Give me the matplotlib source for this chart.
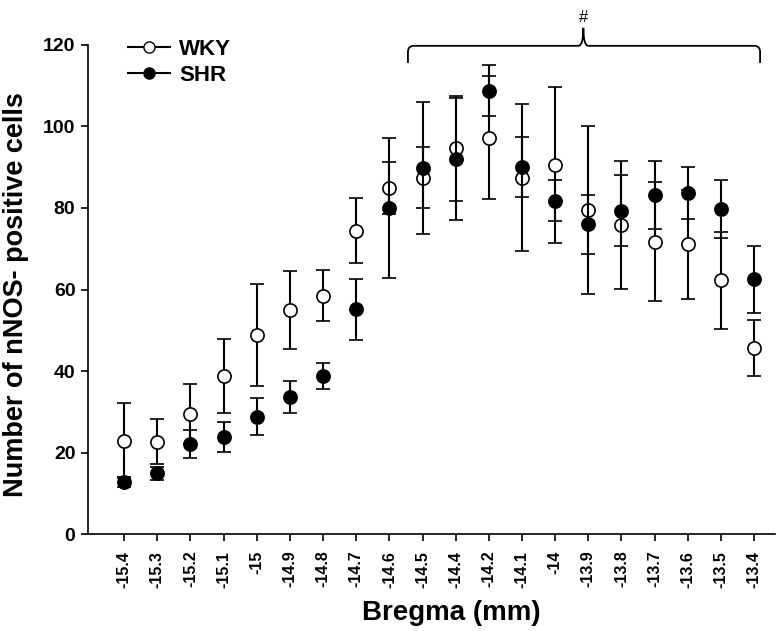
import matplotlib
matplotlib.use('Agg')
import matplotlib.pyplot as plt
from matplotlib.lines import Line2D
from matplotlib.path import Path
from matplotlib.patches import PathPatch

plt.rcParams['font.family'] = ['Liberation Sans', 'DejaVu Sans']

# Bregma levels (mm), one category each
bregma = ['-15.4', '-15.3', '-15.2', '-15.1', '-15', '-14.9', '-14.8', '-14.7',
          '-14.6', '-14.5', '-14.4', '-14.2', '-14.1', '-14', '-13.9', '-13.8',
          '-13.7', '-13.6', '-13.5', '-13.4']

# mean +/- SEM
wky_mean = [22.9, 22.7, 29.4, 38.8, 48.8, 55.0, 58.5, 74.4, 84.9, 87.4,
            94.7, 97.2, 87.4, 90.6, 79.5, 75.8, 71.7, 71.1, 62.3, 45.7]
wky_sem = [9.2, 5.6, 7.3, 9.0, 12.5, 9.5, 6.3, 8.0, 6.4, 7.5,
           12.9, 15.1, 18.0, 19.1, 20.6, 15.7, 14.6, 13.4, 11.9, 6.9]
shr_mean = [12.8, 14.9, 22.1, 23.9, 28.8, 33.6, 38.8, 55.1, 80.0, 89.8,
            92.0, 108.8, 90.0, 81.8, 76.0, 79.3, 83.2, 83.6, 79.7, 62.5]
shr_sem = [1.2, 1.6, 3.5, 3.7, 4.5, 3.9, 3.1, 7.5, 17.2, 16.1,
           15.0, 6.2, 7.3, 5.0, 7.2, 8.7, 8.4, 6.4, 7.1, 8.2]

# bracket marking the significant range (data coords)
br_left, br_right, br_mid = 8.56, 19.18, 13.85
br_foot, br_bar, br_peak = 115.6, 119.8, 124.2

x = list(range(len(bregma)))

fig = plt.figure(figsize=(7.8, 6.31), dpi=100)
ax = fig.add_axes([0.1128, 0.1537, 0.8808, 0.775])

style = dict(ms=9.5, mew=1.2, ecolor='black', elinewidth=1.5, capsize=5,
             capthick=1.5, linestyle='none', color='black')
ax.errorbar(x, wky_mean, yerr=wky_sem, fmt='o', mfc='white', mec='black',
            zorder=3, **style)
ax.errorbar(x, shr_mean, yerr=shr_sem, fmt='o', mfc='black', mec='black',
            zorder=4, **style)

ax.set_xlim(-1.09, 19.63)
ax.set_ylim(0, 120)
ax.set_xticks(x)
ax.set_xticklabels(bregma, rotation=90, fontweight='bold', fontsize=11.5)
ax.set_yticks(range(0, 121, 20))
ax.set_yticklabels([str(v) for v in range(0, 121, 20)], fontweight='bold',
                   fontsize=14)
ax.tick_params(axis='both', direction='out', length=5, width=1.2)
ax.tick_params(axis='x', pad=7)
ax.tick_params(axis='y', pad=4)
for s in ['top', 'right']:
    ax.spines[s].set_visible(False)
for s in ['left', 'bottom']:
    ax.spines[s].set_linewidth(1.2)

ax.set_xlabel('Bregma (mm)', fontsize=20, fontweight='bold', va='baseline')
ax.xaxis.set_label_coords(0.529, -0.176)
ax.set_ylabel('Number of nNOS- positive cells', fontsize=19.5, fontweight='bold')
ax.yaxis.set_label_coords(-0.086, 0.489)

# legend
handles = [
    Line2D([], [], color='black', lw=1.5, marker='o', ms=8, mfc='white', mec='black'),
    Line2D([], [], color='black', lw=1.5, marker='o', ms=8, mfc='black', mec='black'),
]
ax.legend(handles, ['WKY', 'SHR'], loc='upper left', bbox_to_anchor=(0.058, 1.013),
          frameon=False, prop=dict(weight='bold', size=16), handlelength=1.9,
          handletextpad=0.4, labelspacing=0.22, borderpad=0, borderaxespad=0)

# curly bracket with '#'
rx, ry = 0.18, 1.5
verts = [(br_left, br_foot), (br_left, br_bar - ry),
         (br_left, br_bar), (br_left + rx, br_bar),
         (br_mid - 0.15, br_bar),
         (br_mid, br_bar), (br_mid, br_peak),
         (br_mid, br_bar), (br_mid + 0.15, br_bar),
         (br_right - rx, br_bar),
         (br_right, br_bar), (br_right, br_bar - ry),
         (br_right, br_foot)]
codes = [Path.MOVETO, Path.LINETO,
         Path.CURVE3, Path.CURVE3,
         Path.LINETO,
         Path.CURVE3, Path.CURVE3,
         Path.CURVE3, Path.CURVE3,
         Path.LINETO,
         Path.CURVE3, Path.CURVE3,
         Path.LINETO]
ax.add_patch(PathPatch(Path(verts, codes), fill=False, lw=1.3, color='black',
                       clip_on=False))
ax.text(br_mid, br_peak + 0.8, '#', ha='center', va='bottom', fontsize=12,
        clip_on=False)

fig.savefig('out.png', dpi=100)
